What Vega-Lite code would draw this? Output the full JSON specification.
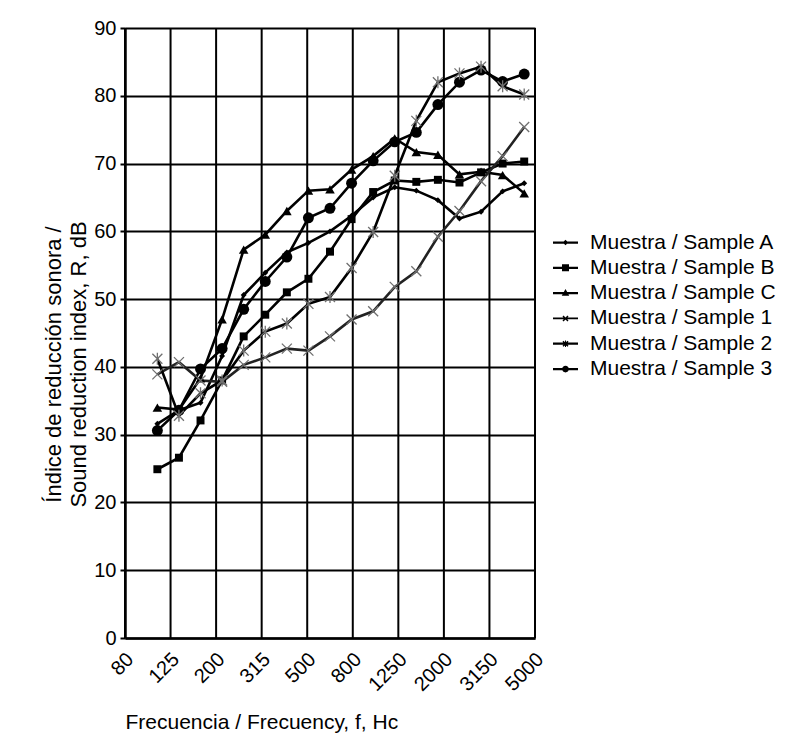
{
  "$schema": "https://vega.github.io/schema/vega-lite/v6.json",
  "width": 410,
  "height": 610,
  "autosize": {"type": "none"},
  "padding": {"left": 125, "top": 28, "right": 263, "bottom": 101},
  "background": "white",
  "config": {
    "font": "Liberation Sans",
    "view": {"stroke": null},
    "axis": {"labelColor": "black", "titleColor": "black", "titleFontWeight": "normal"}
  },
  "datasets": {
    "ticks": [{"f": 80}, {"f": 125}, {"f": 200}, {"f": 315}, {"f": 500}, {"f": 800}, {"f": 1250}, {"f": 2000}, {"f": 3150}, {"f": 5000}],
    "meas": [
      {"s":"A","f":100,"v":31.6},{"s":"A","f":125,"v":33.6},{"s":"A","f":160,"v":34.7},{"s":"A","f":200,"v":41.6},{"s":"A","f":250,"v":50.6},{"s":"A","f":315,"v":53.9},{"s":"A","f":400,"v":56.9},{"s":"A","f":500,"v":58.3},{"s":"A","f":630,"v":60.0},{"s":"A","f":800,"v":62.3},{"s":"A","f":1000,"v":65.0},{"s":"A","f":1250,"v":66.5},{"s":"A","f":1600,"v":66.0},{"s":"A","f":2000,"v":64.6},{"s":"A","f":2500,"v":61.9},{"s":"A","f":3150,"v":62.9},{"s":"A","f":4000,"v":65.9},{"s":"A","f":5000,"v":67.1},
      {"s":"B","f":100,"v":24.9},{"s":"B","f":125,"v":26.6},{"s":"B","f":160,"v":32.1},{"s":"B","f":200,"v":38.0},{"s":"B","f":250,"v":44.5},{"s":"B","f":315,"v":47.7},{"s":"B","f":400,"v":51.0},{"s":"B","f":500,"v":53.0},{"s":"B","f":630,"v":57.0},{"s":"B","f":800,"v":61.8},{"s":"B","f":1000,"v":65.8},{"s":"B","f":1250,"v":67.5},{"s":"B","f":1600,"v":67.3},{"s":"B","f":2000,"v":67.6},{"s":"B","f":2500,"v":67.2},{"s":"B","f":3150,"v":68.7},{"s":"B","f":4000,"v":70.0},{"s":"B","f":5000,"v":70.3},
      {"s":"C","f":100,"v":34.0},{"s":"C","f":125,"v":33.7},{"s":"C","f":160,"v":38.3},{"s":"C","f":200,"v":47.0},{"s":"C","f":250,"v":57.3},{"s":"C","f":315,"v":59.5},{"s":"C","f":400,"v":63.0},{"s":"C","f":500,"v":66.0},{"s":"C","f":630,"v":66.2},{"s":"C","f":800,"v":69.1},{"s":"C","f":1000,"v":71.1},{"s":"C","f":1250,"v":73.7},{"s":"C","f":1600,"v":71.7},{"s":"C","f":2000,"v":71.3},{"s":"C","f":2500,"v":68.4},{"s":"C","f":3150,"v":68.8},{"s":"C","f":4000,"v":68.3},{"s":"C","f":5000,"v":65.6},
      {"s":"1","f":100,"v":38.9},{"s":"1","f":125,"v":40.7},{"s":"1","f":160,"v":38.0},{"s":"1","f":200,"v":37.8},{"s":"1","f":250,"v":40.3},{"s":"1","f":315,"v":41.4},{"s":"1","f":400,"v":42.7},{"s":"1","f":500,"v":42.4},{"s":"1","f":630,"v":44.5},{"s":"1","f":800,"v":47.0},{"s":"1","f":1000,"v":48.2},{"s":"1","f":1250,"v":51.8},{"s":"1","f":1600,"v":54.1},{"s":"1","f":2000,"v":59.2},{"s":"1","f":2500,"v":63.0},{"s":"1","f":3150,"v":67.4},{"s":"1","f":4000,"v":71.1},{"s":"1","f":5000,"v":75.4},
      {"s":"2","f":100,"v":41.2},{"s":"2","f":125,"v":32.8},{"s":"2","f":160,"v":36.1},{"s":"2","f":200,"v":38.0},{"s":"2","f":250,"v":42.4},{"s":"2","f":315,"v":45.2},{"s":"2","f":400,"v":46.4},{"s":"2","f":500,"v":49.3},{"s":"2","f":630,"v":50.3},{"s":"2","f":800,"v":54.6},{"s":"2","f":1000,"v":59.9},{"s":"2","f":1250,"v":68.2},{"s":"2","f":1600,"v":76.3},{"s":"2","f":2000,"v":82.0},{"s":"2","f":2500,"v":83.3},{"s":"2","f":3150,"v":84.3},{"s":"2","f":4000,"v":81.4},{"s":"2","f":5000,"v":80.2},
      {"s":"3","f":100,"v":30.6},{"s":"3","f":125,"v":33.6},{"s":"3","f":160,"v":39.7},{"s":"3","f":200,"v":42.7},{"s":"3","f":250,"v":48.5},{"s":"3","f":315,"v":52.6},{"s":"3","f":400,"v":56.2},{"s":"3","f":500,"v":62.0},{"s":"3","f":630,"v":63.4},{"s":"3","f":800,"v":67.1},{"s":"3","f":1000,"v":70.4},{"s":"3","f":1250,"v":73.2},{"s":"3","f":1600,"v":74.6},{"s":"3","f":2000,"v":78.7},{"s":"3","f":2500,"v":82.0},{"s":"3","f":3150,"v":83.8},{"s":"3","f":4000,"v":82.1},{"s":"3","f":5000,"v":83.2}
    ]
  },
  "layer": [
    {
      "data": {"name": "ticks"},
      "mark": {"type": "rule", "color": "black", "strokeWidth": 2},
      "encoding": {
        "x": {
          "field": "f", "type": "ordinal",
          "scale": {"type": "point", "padding": 0, "domain": [80, 125, 200, 315, 500, 800, 1250, 2000, 3150, 5000]},
          "axis": {
            "title": "Frecuencia / Frecuency, f, Hc",
            "titleFontSize": 21, "titleAnchor": "start", "titlePadding": 17,
            "labelAngle": -45, "labelAlign": "right", "labelBaseline": "middle",
            "labelFontSize": 20, "labelPadding": 18, "labelOffset": 5, "labelOverlap": false,
            "ticks": false, "grid": false,
            "domainColor": "black", "domainWidth": 2.5
          }
        }
      }
    },
    {
      "data": {"name": "meas"},
      "encoding": {
        "x": {
          "field": "f", "type": "ordinal",
          "scale": {"type": "point", "padding": 0.5, "domain": [80, 100, 125, 160, 200, 250, 315, 400, 500, 630, 800, 1000, 1250, 1600, 2000, 2500, 3150, 4000, 5000]},
          "axis": null
        },
        "y": {
          "field": "v", "type": "quantitative",
          "scale": {"domain": [0, 90], "nice": false},
          "axis": {
            "values": [0, 10, 20, 30, 40, 50, 60, 70, 80, 90],
            "title": ["Índice de reducción sonora  /", "Sound reduction index, R, dB"],
            "titleFontSize": 22, "titlePadding": 3, "titleY": 336, "titleLineHeight": 25,
            "labelFontSize": 20, "labelPadding": 4,
            "grid": true, "gridColor": "black", "gridWidth": 2, "gridOpacity": 1,
            "domainColor": "black", "domainWidth": 2.5,
            "tickColor": "black", "tickWidth": 2, "tickSize": 5
          }
        }
      },
      "layer": [
        {
          "mark": {"type": "line"},
          "encoding": {
            "color": {"field": "s", "type": "nominal", "scale": {"domain": ["A", "B", "C", "1", "2", "3"], "range": ["black", "black", "black", "#222222", "black", "black"]}, "legend": null},
            "strokeWidth": {"field": "s", "type": "ordinal", "scale": {"domain": ["A", "B", "C", "1", "2", "3"], "range": [2.6, 2.6, 2.6, 2.0, 2.8, 2.8]}, "legend": null}
          }
        },
        {
          "transform": [{"filter": {"field": "s", "oneOf": ["A", "B", "C", "3"]}}],
          "mark": {"type": "point", "filled": true, "color": "black", "opacity": 1},
          "encoding": {
            "shape": {"field": "s", "type": "nominal", "scale": {"domain": ["A", "B", "C", "3"], "range": ["diamond", "square", "triangle-up", "circle"]}, "legend": null},
            "size": {"field": "s", "type": "ordinal", "scale": {"domain": ["A", "B", "C", "3"], "range": [35, 120, 85, 110]}, "legend": null}
          }
        },
        {
          "transform": [{"filter": {"field": "s", "oneOf": ["1", "2"]}}],
          "mark": {"type": "point", "filled": false, "color": "#707070", "strokeWidth": 1.3, "size": 100, "opacity": 1},
          "encoding": {
            "shape": {"field": "s", "type": "nominal", "scale": {"domain": ["1", "2"], "range": ["M-1,-1L1,1M-1,1L1,-1", "M-1,-1L1,1M-1,1L1,-1M0,-1.2L0,1.2"]}, "legend": null}
          }
        },
        {
          "mark": {"type": "point", "filled": true, "opacity": 0, "size": 625, "color": "black"},
          "encoding": {
            "shape": {
              "field": "s", "type": "nominal",
              "scale": {
                "domain": ["A", "B", "C", "1", "2", "3"],
                "range": [
                  "M-1,-0.09L1,-0.09L1,0.09L-1,0.09ZM0,-0.22L0.22,0L0,0.22L-0.22,0Z",
                  "M-1,-0.09L1,-0.09L1,0.09L-1,0.09ZM-0.28,-0.28L0.28,-0.28L0.28,0.28L-0.28,0.28Z",
                  "M-1,-0.09L1,-0.09L1,0.09L-1,0.09ZM0,-0.32L0.3,0.22L-0.3,0.22Z",
                  "M-1,-0.07L1,-0.07L1,0.07L-1,0.07ZM-0.16,-0.24L0.24,0.16L0.16,0.24L-0.24,-0.16ZM0.16,-0.24L0.24,-0.16L-0.16,0.24L-0.24,0.16Z",
                  "M-1,-0.09L1,-0.09L1,0.09L-1,0.09ZM-0.16,-0.24L0.24,0.16L0.16,0.24L-0.24,-0.16ZM0.16,-0.24L0.24,-0.16L-0.16,0.24L-0.24,0.16ZM-0.04,-0.26L0.04,-0.26L0.04,0.26L-0.04,0.26Z",
                  "M-1,-0.09L1,-0.09L1,0.09L-1,0.09ZM0.27,0A0.27,0.27,0,1,1,-0.27,0A0.27,0.27,0,1,1,0.27,0Z"
                ]
              },
              "legend": {
                "title": null,
                "orient": "none", "legendX": 428, "legendY": 202,
                "padding": 0, "rowPadding": 2.3,
                "symbolSize": 625, "symbolStrokeWidth": 0,
                "symbolFillColor": "black", "symbolOpacity": 1,
                "labelFontSize": 21, "labelOffset": 12, "labelColor": "black", "labelLimit": 400,
                "labelExpr": "'Muestra / Sample ' + datum.label",
                "encode": {
                  "symbols": {
                    "update": {"fill": {"value": "black"}, "fillOpacity": {"value": 1}, "opacity": {"value": 1}, "size": {"value": 625}}
                  }
                }
              }
            }
          }
        }
      ],
      "resolve": {"scale": {"shape": "independent", "size": "independent"}}
    }
  ],
  "resolve": {"scale": {"x": "independent"}}
}
